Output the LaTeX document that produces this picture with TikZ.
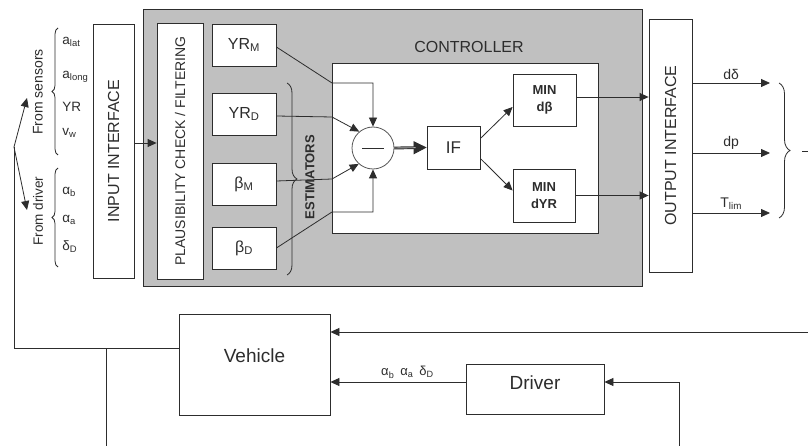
\documentclass[tikz,border=0pt]{standalone}
\usepackage{fontspec}
\setmainfont{Liberation Sans}
\usetikzlibrary{arrows.meta,decorations.pathreplacing}

\definecolor{panelgray}{RGB}{192,192,192}
\definecolor{ink}{RGB}{45,45,45}
\newcommand{\fsz}[1]{\fontsize{#1}{#1}\selectfont}

\begin{document}
\begin{tikzpicture}[x=1pt,y=-1pt,line width=0.8pt,color=ink,
  blk/.style={draw,fill=white,inner sep=0pt},
  arr/.style={-{Triangle[length=9pt,width=8pt]}},
  brc/.style={decorate,decoration={brace,amplitude=#1}}]
  % Image coordinates: x right, y down, 1pt per pixel.
  \fill[white] (0,0) rectangle (808,446);
  \useasboundingbox (0,0) rectangle (808,446);

  % Controller panel and its blocks.
  \node[draw,fill=panelgray,minimum width=499pt,minimum height=277pt] (panel) at (392.5,147.5) {};
  \node[blk,minimum width=41pt,minimum height=254pt] (inif) at (113.5,151) {};
  \node[rotate=90,font=\fsz{16}] (iniflbl) at (inif) {INPUT INTERFACE};
  \node[blk,minimum width=46pt,minimum height=256pt] (plaus) at (180,151) {};
  \node[rotate=90,font=\fsz{14}] (plauslbl) at (plaus) {PLAUSIBILITY CHECK / FILTERING};
  \node[blk,minimum width=64pt,minimum height=42pt,font=\fsz{16}] (yrm) at (244,45) {YR\textsubscript{M}};
  \node[blk,minimum width=64pt,minimum height=42pt,font=\fsz{16}] (yrd) at (244,114) {YR\textsubscript{D}};
  \node[blk,minimum width=64pt,minimum height=42pt,font=\fsz{16}] (betam) at (244,184) {β\textsubscript{M}};
  \node[blk,minimum width=64pt,minimum height=42pt,font=\fsz{16}] (betad) at (244,248) {β\textsubscript{D}};
  \node[blk,minimum width=266pt,minimum height=170pt] (ctrl) at (465,148) {};
  \node[font=\fsz{16}] (ctrllbl) at (469,47) {CONTROLLER};
  \node[blk,minimum width=43pt,minimum height=253pt] (outif) at (670.5,145.5) {};
  \node[rotate=90,font=\fsz{16}] (outiflbl) at (outif) {OUTPUT INTERFACE};

  % Inside the controller.
  \node[circle,draw=ink!80,fill=white,minimum size=42pt,inner sep=0pt] (sum) at (373,148) {};
  \draw ([xshift=-11pt]sum.center) -- ([xshift=11pt]sum.center);
  \node[blk,minimum width=53pt,minimum height=43pt,font=\fsz{17}] (ifblk) at (453.5,147.5) {IF};
  \node[blk,minimum width=63pt,minimum height=52pt,font=\bfseries\fsz{13},align=center] (mindb) at (544.5,100) {MIN\\[4pt]dβ};
  \node[blk,minimum width=62pt,minimum height=53pt,font=\bfseries\fsz{13},align=center] (mindyr) at (544,195.5) {MIN\\[4pt]dYR};

  % Estimator outputs into the comparator.
  \coordinate (jm) at (332,83);
  \coordinate (jd) at (332,117);
  \coordinate (jbm) at (332,179);
  \coordinate (jbd) at (332,212);
  \draw[arr] ([yshift=-2pt]yrm.east) -- (jm) -- (jm -| sum.north) -- (sum.north);
  \draw[arr] ([yshift=-2pt]yrd.east) -- (jd) -- (sum.130);
  \draw[arr] ([yshift=3pt]betam.east) -- (jbm) -- (sum.228);
  \draw[arr] (betad.east) -- (jbd) -- (jbd -| sum.south) -- (sum.south);
  \draw[brc=10pt] (287,83) -- (287,275);
  \node[rotate=90,font=\bfseries\fsz{13}] (estlbl) at (310,177) {ESTIMATORS};

  % Double line into IF.
  \draw[line width=2.8pt,shorten >=10pt] (sum.east) -- (ifblk.west);
  \draw[-{Triangle[length=13pt,width=13pt]}] (sum.east) -- (ifblk.west);
  \draw[line width=0.9pt,ink!40,shorten >=11pt] (sum.east) -- (ifblk.west);

  \draw[arr] ([yshift=9pt]ifblk.east) -- ([yshift=-7pt]mindb.west);
  \draw[arr] ([yshift=-11pt]ifblk.east) -- ([yshift=5pt]mindyr.west);
  \coordinate (qb) at ([yshift=3pt]mindb.east);
  \draw[arr] (qb) -- (qb -| outif.west);
  \draw[arr] (mindyr.east) -- (mindyr.east -| outif.west);
  \draw[arr] ([yshift=8pt]inif.east) -- ([yshift=8pt]plaus.west);

  % Outputs.
  \foreach \y/\t/\n in {83/dδ/od,153/dp/op,213/T\textsubscript{lim}/ot}{
    \coordinate (\n) at (770,\y);
    \draw[arr] (\n -| outif.east) -- (\n) node[midway,above,font=\fsz{14}] {\t};
  }
  \draw[brc=11pt] (779,83) -- (779,218);
  \coordinate (tail) at (802,151);
  \coordinate (tailend) at (808,151);
  \draw (tail) -- (tailend);

  % Measured and driver signals.
  \foreach \y/\t/\n in {42/a\textsubscript{lat}/alat,77/a\textsubscript{long}/along,107/YR/yr,133/v\textsubscript{w}/vw,
                        192/α\textsubscript{b}/ab,220/α\textsubscript{a}/aa,247/δ\textsubscript{D}/dd}{
    \node[anchor=west,inner sep=0pt,font=\fsz{13.5}] (\n) at (62,\y) {\t};
  }
  \draw[brc=6pt] (58,155) -- (58,28);
  \draw[brc=6pt] (58,267) -- (58,168);
  \node[rotate=90,font=\fsz{14}] (senslbl) at (38,92) {From sensors};
  \node[rotate=90,font=\fsz{13.5}] (drvlbl) at (38,211) {From driver};

  % Vehicle and driver loop.
  \node[blk,minimum width=151pt,minimum height=101pt,label={[font=\fsz{19},yshift=9pt]center:Vehicle}] (vehicle) at (254.5,364.5) {};
  \node[blk,minimum width=138pt,minimum height=50pt,label={[font=\fsz{19},yshift=6pt]center:Driver}] (driver) at (535,389) {};

  \coordinate (split) at (14,147);
  \coordinate (tosens) at (27,98);
  \coordinate (todrv) at (27,210);
  \coordinate (fb) at (14,348);
  \coordinate (fb2) at (106,348);
  \coordinate (fb2end) at (106,446);
  \draw[arr] (split) -- (tosens);
  \draw[arr] (split) -- (todrv);
  \draw (split) -- (fb) -- (fb -| vehicle.west);
  \draw (fb2) -- (fb2end);

  \coordinate (rin) at (808,332);
  \draw[arr] (rin) -- (rin -| vehicle.east);
  \coordinate (dv) at ([yshift=7pt]driver.west);
  \draw[arr] (dv) -- (dv -| vehicle.east)
    node[pos=0.43,above,font=\fsz{13}] {α\textsubscript{b}\hspace{6pt}α\textsubscript{a}\hspace{6pt}δ\textsubscript{D}};
  \coordinate (dbot) at (679,446);
  \draw[arr] (dbot) -- (dbot |- dv) -- (dv -| driver.east);
\end{tikzpicture}
\end{document}
